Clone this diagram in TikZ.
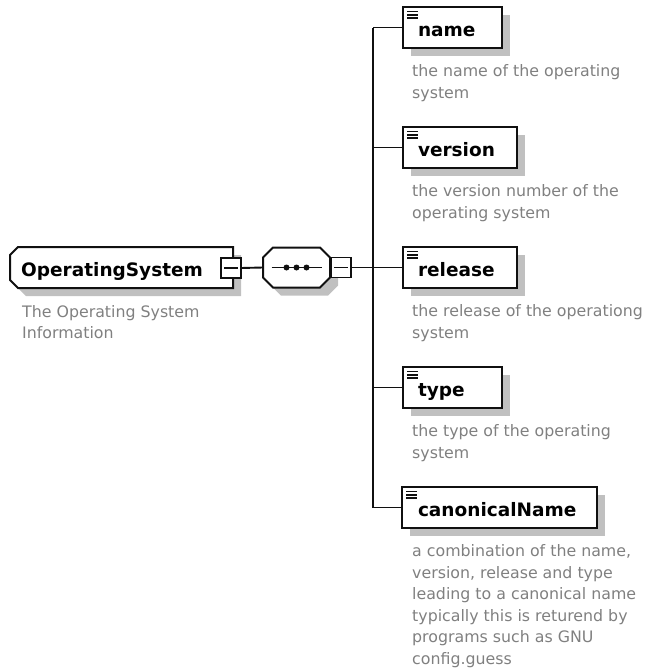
\documentclass[tikz,border=0pt]{standalone}
\usepackage{fontspec}
\setmainfont{DejaVu Sans}
\usetikzlibrary{shadows}

\definecolor{edge}{HTML}{101010}
\definecolor{desc}{HTML}{808080}
\definecolor{boxgrey}{HTML}{C0C0C0}

% outline of a box whose two left corners are cut (#1 node, #2 offset)
\newcommand\rootoutline[2]{%
  ([shift={(#2+8,#2)}]#1.north west) -- ([shift={(#2,#2)}]#1.north east)
  -- ([shift={(#2,#2)}]#1.south east) -- ([shift={(#2+8,#2)}]#1.south west)
  -- ([shift={(#2,#2-8)}]#1.south west) -- ([shift={(#2,#2+8)}]#1.north west) -- cycle}
% outline of an octagon with all four corners cut (#1 node, #2 offset)
\newcommand\octoutline[2]{%
  ([shift={(#2+10,#2)}]#1.north west) -- ([shift={(#2-10,#2)}]#1.north east)
  -- ([shift={(#2,#2+10)}]#1.north east) -- ([shift={(#2,#2-10)}]#1.south east)
  -- ([shift={(#2-10,#2)}]#1.south east) -- ([shift={(#2+10,#2)}]#1.south west)
  -- ([shift={(#2,#2-10)}]#1.south west) -- ([shift={(#2,#2+10)}]#1.north west) -- cycle}

\tikzset{
  wire/.style={draw=edge, line width=1.9pt},
  outline/.style={draw=edge, fill=white, line width=2pt, line join=miter},
  castshadow/.style={fill=boxgrey, draw=none},
  boxshadow/.style={drop shadow={shadow xshift=8pt, shadow yshift=-8pt, fill=boxgrey, opacity=1}},
  labelfont/.style={font=\fontsize{18.5}{22}\selectfont\bfseries},
  % element box: white rectangle with the three-bar icon in its top-left corner
  elem/.style={rectangle, draw=edge, fill=white, line width=2pt, boxshadow,
    inner sep=0pt, outer sep=0pt, text width=#1, align=left, text height=29pt, text depth=12pt,
    anchor=west, labelfont,
    path picture={
      \foreach \k in {0,1,2}
        \draw[edge, line width=1.4pt]
          ([shift={(4pt,-4.5pt-3.3pt*\k)}]path picture bounding box.north west) -- ++(11pt,0pt);
    }},
  % frame nodes for the hand-drawn outlines
  frame/.style={rectangle, inner sep=0pt, outer sep=0pt, anchor=west},
  % collapse button
  minus/.style={rectangle, draw=edge, fill=white, line width=1.9pt, minimum size=20pt,
    inner sep=0pt, outer sep=0pt,
    path picture={
      \draw[edge, line width=1.5pt] ([xshift=3pt]path picture bounding box.west)
        -- ([xshift=-3pt]path picture bounding box.east);
    }},
  note/.style={text=desc, font=\fontsize{15.8}{21.6}\selectfont, align=left,
    anchor=base west, inner sep=0pt},
}

\begin{document}
\begin{tikzpicture}[x=1pt, y=-1pt]
  \useasboundingbox (0,0) rectangle (648,672);

  % root element
  \node[frame, minimum width=223pt, minimum height=41pt] (os) at (10,267.5) {};
  \path[castshadow] \rootoutline{os}{8};
  \draw[outline] \rootoutline{os}{0};
  \node[labelfont, anchor=base west, inner sep=0pt] (oslabel) at (21,276.5) {OperatingSystem};
  \node[minus] (osm) at (231,268) {};

  % sequence compositor
  \node[frame, minimum width=67pt, minimum height=40pt] (seq) at (263,267.5) {};
  \path[castshadow] \octoutline{seq}{8};
  \draw[outline] \octoutline{seq}{0};
  \draw[edge, line width=1.5pt] ([xshift=-25pt]seq.center) -- ([xshift=25pt]seq.center);
  \foreach \dx in {-10,0,10}
    \fill[edge] ([xshift=\dx pt]seq.center) circle (3pt);
  \node[minus] (seqm) at (341,267.5) {};

  \coordinate (trunk) at (373,267.5);

  % child elements
  \node[elem=99pt]  (name)    at (403,27.5)  {\hspace*{15pt}name};
  \node[elem=114pt] (version) at (403,147.5) {\hspace*{15pt}version};
  \node[elem=114pt] (release) at (403,267.5) {\hspace*{15pt}release};
  \node[elem=99pt]  (type)    at (403,387.5) {\hspace*{15pt}type};
  \node[elem=195pt] (canon)   at (402,507.5) {\hspace*{16pt}canonicalName};

  % connectors
  \draw[wire] (osm.east) -- (seq.west);
  \draw[wire] (seqm.east) -- (trunk);
  \draw[wire] (trunk |- name.west) -- (trunk |- canon.west);
  \foreach \n in {name,version,release,type,canon}
    \draw[wire] (\n.west) -- (trunk |- \n.west);

  % annotations (anchored at the baseline of their last line)
  \node[note] (osnote) at (22,338.6) {The Operating System\\Information};
  \node[note] (namenote) at (412,98.1) {the name of the operating\\system};
  \node[note] (versionnote) at (412,218.1) {the version number of the\\operating system};
  \node[note] (releasenote) at (412,338.1) {the release of the operationg\\system};
  \node[note] (typenote) at (412,458.1) {the type of the operating\\system};
  \node[note] (canonnote) at (412,664.5) {a combination of the name,\\version, release and type\\leading to a canonical name\\typically this is returend by\\programs such as GNU\\config.guess};
\end{tikzpicture}
\end{document}
